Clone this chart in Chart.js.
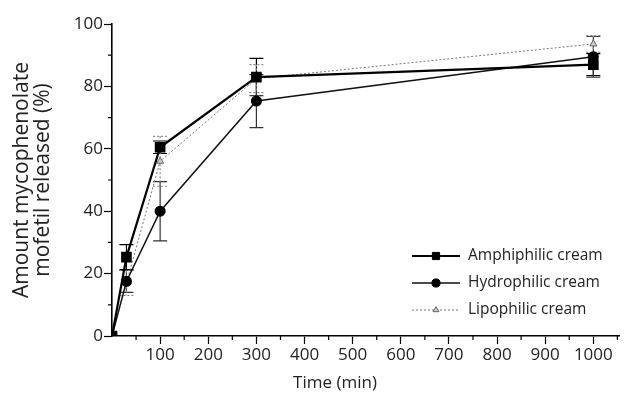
<!DOCTYPE html>
<html>
<head>
<meta charset="utf-8">
<script src="https://cdn.jsdelivr.net/npm/chart.js@4.4.0/dist/chart.umd.min.js"></script>
<style>
html, body { margin: 0; padding: 0; background: #fff; }
#wrap { width: 628px; height: 401px; }
</style>
</head>
<body>
<div id="wrap"><canvas id="graph1"></canvas></div>
<script>
// time points (min) and % released
var times = [0, 30, 100, 300, 1000];
var amphiphilic = [0, 25.3, 60.5, 83, 87];
var amphiphilicErr = [0, 4, 2, 6, 3.5];
var hydrophilic = [0, 17.5, 40, 75.3, 89.5];
var hydrophilicErr = [0, 3.5, 9.5, 8.5, 6.5];
var lipophilic = [0, 17, 56, 82.5, 93.6];
var lipophilicErr = [0, 4, 8, 4.5, 2.7];

var seriesNames = ['Amphiphilic cream', 'Hydrophilic cream', 'Lipophilic cream'];
var xTicks = [100, 200, 300, 400, 500, 600, 700, 800, 900, 1000];
var xMinorTicks = [50, 150, 250, 350, 450, 550, 650, 750, 850, 950, 1050];
var yTicks = [0, 20, 40, 60, 80, 100];
var yMinorTicks = [10, 30, 50, 70, 90];

var font = 'Open Sans';
var ctx = document.getElementById('graph1');

function pts(vals) {
    return times.map(function(t, i) { return { x: t, y: vals[i] }; });
}

var errors = [amphiphilicErr, hydrophilicErr, lipophilicErr];

var errorBars = {
    id: 'errorBars',
    beforeDatasetsDraw: function(chart) {
        var c = chart.ctx, xs = chart.scales.x, ys = chart.scales.y;
        chart.data.datasets.forEach(function(ds, i) {
            var err = errors[i];
            c.save();
            c.strokeStyle = ds.errColor;
            c.lineWidth = 1.2;
            c.setLineDash(ds.borderDash || []);
            ds.data.forEach(function(p, j) {
                if (!err[j]) return;
                var x = xs.getPixelForValue(p.x);
                var y1 = ys.getPixelForValue(p.y + err[j]);
                var y2 = ys.getPixelForValue(p.y - err[j]);
                c.beginPath();
                c.moveTo(x, y1); c.lineTo(x, y2);
                c.moveTo(x - 7, y1); c.lineTo(x + 7, y1);
                c.moveTo(x - 7, y2); c.lineTo(x + 7, y2);
                c.stroke();
            });
            c.restore();
        });
    }
};

var minorTicks = {
    id: 'minorTicks',
    afterDraw: function(chart) {
        var c = chart.ctx, xs = chart.scales.x, ys = chart.scales.y, a = chart.chartArea;
        c.save();
        c.strokeStyle = '#000';
        c.lineWidth = 1.2;
        c.beginPath();
        xMinorTicks.forEach(function(v) {
            var x = xs.getPixelForValue(v);
            c.moveTo(x, a.bottom); c.lineTo(x, a.bottom + 4);
        });
        yMinorTicks.forEach(function(v) {
            var y = ys.getPixelForValue(v);
            c.moveTo(a.left, y); c.lineTo(a.left - 4, y);
        });
        c.stroke();
        c.restore();
    }
};

var insideLegend = {
    id: 'insideLegend',
    afterDraw: function(chart) {
        var c = chart.ctx;
        var x0 = 412, x1 = 460, tx = 468, rows = [256, 283, 310];
        chart.data.datasets.forEach(function(ds, i) {
            var y = rows[i];
            c.save();
            c.strokeStyle = ds.borderColor;
            c.lineWidth = ds.borderWidth;
            c.setLineDash(ds.borderDash || []);
            c.beginPath(); c.moveTo(x0, y); c.lineTo(x1, y); c.stroke();
            c.setLineDash([]);
            c.fillStyle = ds.pointBackgroundColor;
            c.strokeStyle = ds.pointBorderColor;
            c.lineWidth = 1;
            Chart.helpers.drawPoint(c, {
                pointStyle: ds.pointStyle, radius: ds.pointRadius * 0.85, rotation: 0, borderWidth: 1
            }, (x0 + x1) / 2, y);
            c.restore();
            c.save();
            c.font = '15.5px "' + font + '"';
            c.fillStyle = '#222';
            c.textBaseline = 'middle';
            c.fillText(ds.label, tx, y);
            c.restore();
        });
    }
};

var data = {
    datasets: [{
        label: seriesNames[0],
        data: pts(amphiphilic),
        borderColor: '#000',
        borderWidth: 2.2,
        pointStyle: 'rect',
        pointRadius: 6,
        pointBackgroundColor: '#000',
        pointBorderColor: '#000',
        errColor: '#000'
    }, {
        label: seriesNames[1],
        data: pts(hydrophilic),
        borderColor: '#111',
        borderWidth: 1.5,
        pointStyle: 'circle',
        pointRadius: 4.8,
        pointBackgroundColor: '#000',
        pointBorderColor: '#000',
        errColor: '#333'
    }, {
        label: seriesNames[2],
        data: pts(lipophilic),
        borderColor: '#777',
        borderWidth: 1,
        borderDash: [2, 2],
        pointStyle: 'triangle',
        pointRadius: 4,
        pointBackgroundColor: '#ccc',
        pointBorderColor: '#666',
        errColor: '#888'
    }]
};

var tickFont = { family: font, size: 17 };

var myChart = new Chart(ctx, {
    type: 'line',
    data: data,
    options: {
        animation: false,
        responsive: true,
        maintainAspectRatio: false,
        layout: { padding: { top: 24, right: 0, left: 0, bottom: 0 } },
        elements: { line: { tension: 0 } },
        plugins: { legend: { display: false }, tooltip: { enabled: false } },
        scales: {
            x: {
                type: 'linear',
                min: 0,
                max: 1055,
                afterBuildTicks: function(s) { s.ticks = xTicks.map(function(v) { return { value: v }; }); },
                afterFit: function(s) { s.height = 65; },
                ticks: {
                    font: tickFont, color: '#222', padding: 1, maxRotation: 0, autoSkip: false,
                    callback: function(v) { return String(v); }
                },
                grid: { drawOnChartArea: false, tickLength: 8, tickColor: '#000', tickWidth: 1.2 },
                border: { color: '#000', width: 1.6 },
                // trailing spaces pull the title left of the axis centre, as in the figure
                title: { display: true, text: 'Time (min)              ', font: tickFont, color: '#222', padding: { top: 0, bottom: 8 } }
            },
            y: {
                min: 0,
                max: 100,
                afterBuildTicks: function(s) { s.ticks = yTicks.map(function(v) { return { value: v }; }); },
                afterFit: function(s) { s.width = 112; },
                ticks: { font: tickFont, color: '#222', padding: 1 },
                grid: { drawOnChartArea: false, tickLength: 8, tickColor: '#000', tickWidth: 1.2 },
                border: { color: '#000', width: 1.6 },
                title: {
                    display: true, text: ['Amount mycophenolate', 'mofetil released (%)'],
                    font: { family: font, size: 21, lineHeight: 1.0 }, color: '#222', padding: { top: 12, bottom: 0 }
                }
            }
        }
    },
    plugins: [errorBars, minorTicks, insideLegend]
});
</script>
</body>
</html>
